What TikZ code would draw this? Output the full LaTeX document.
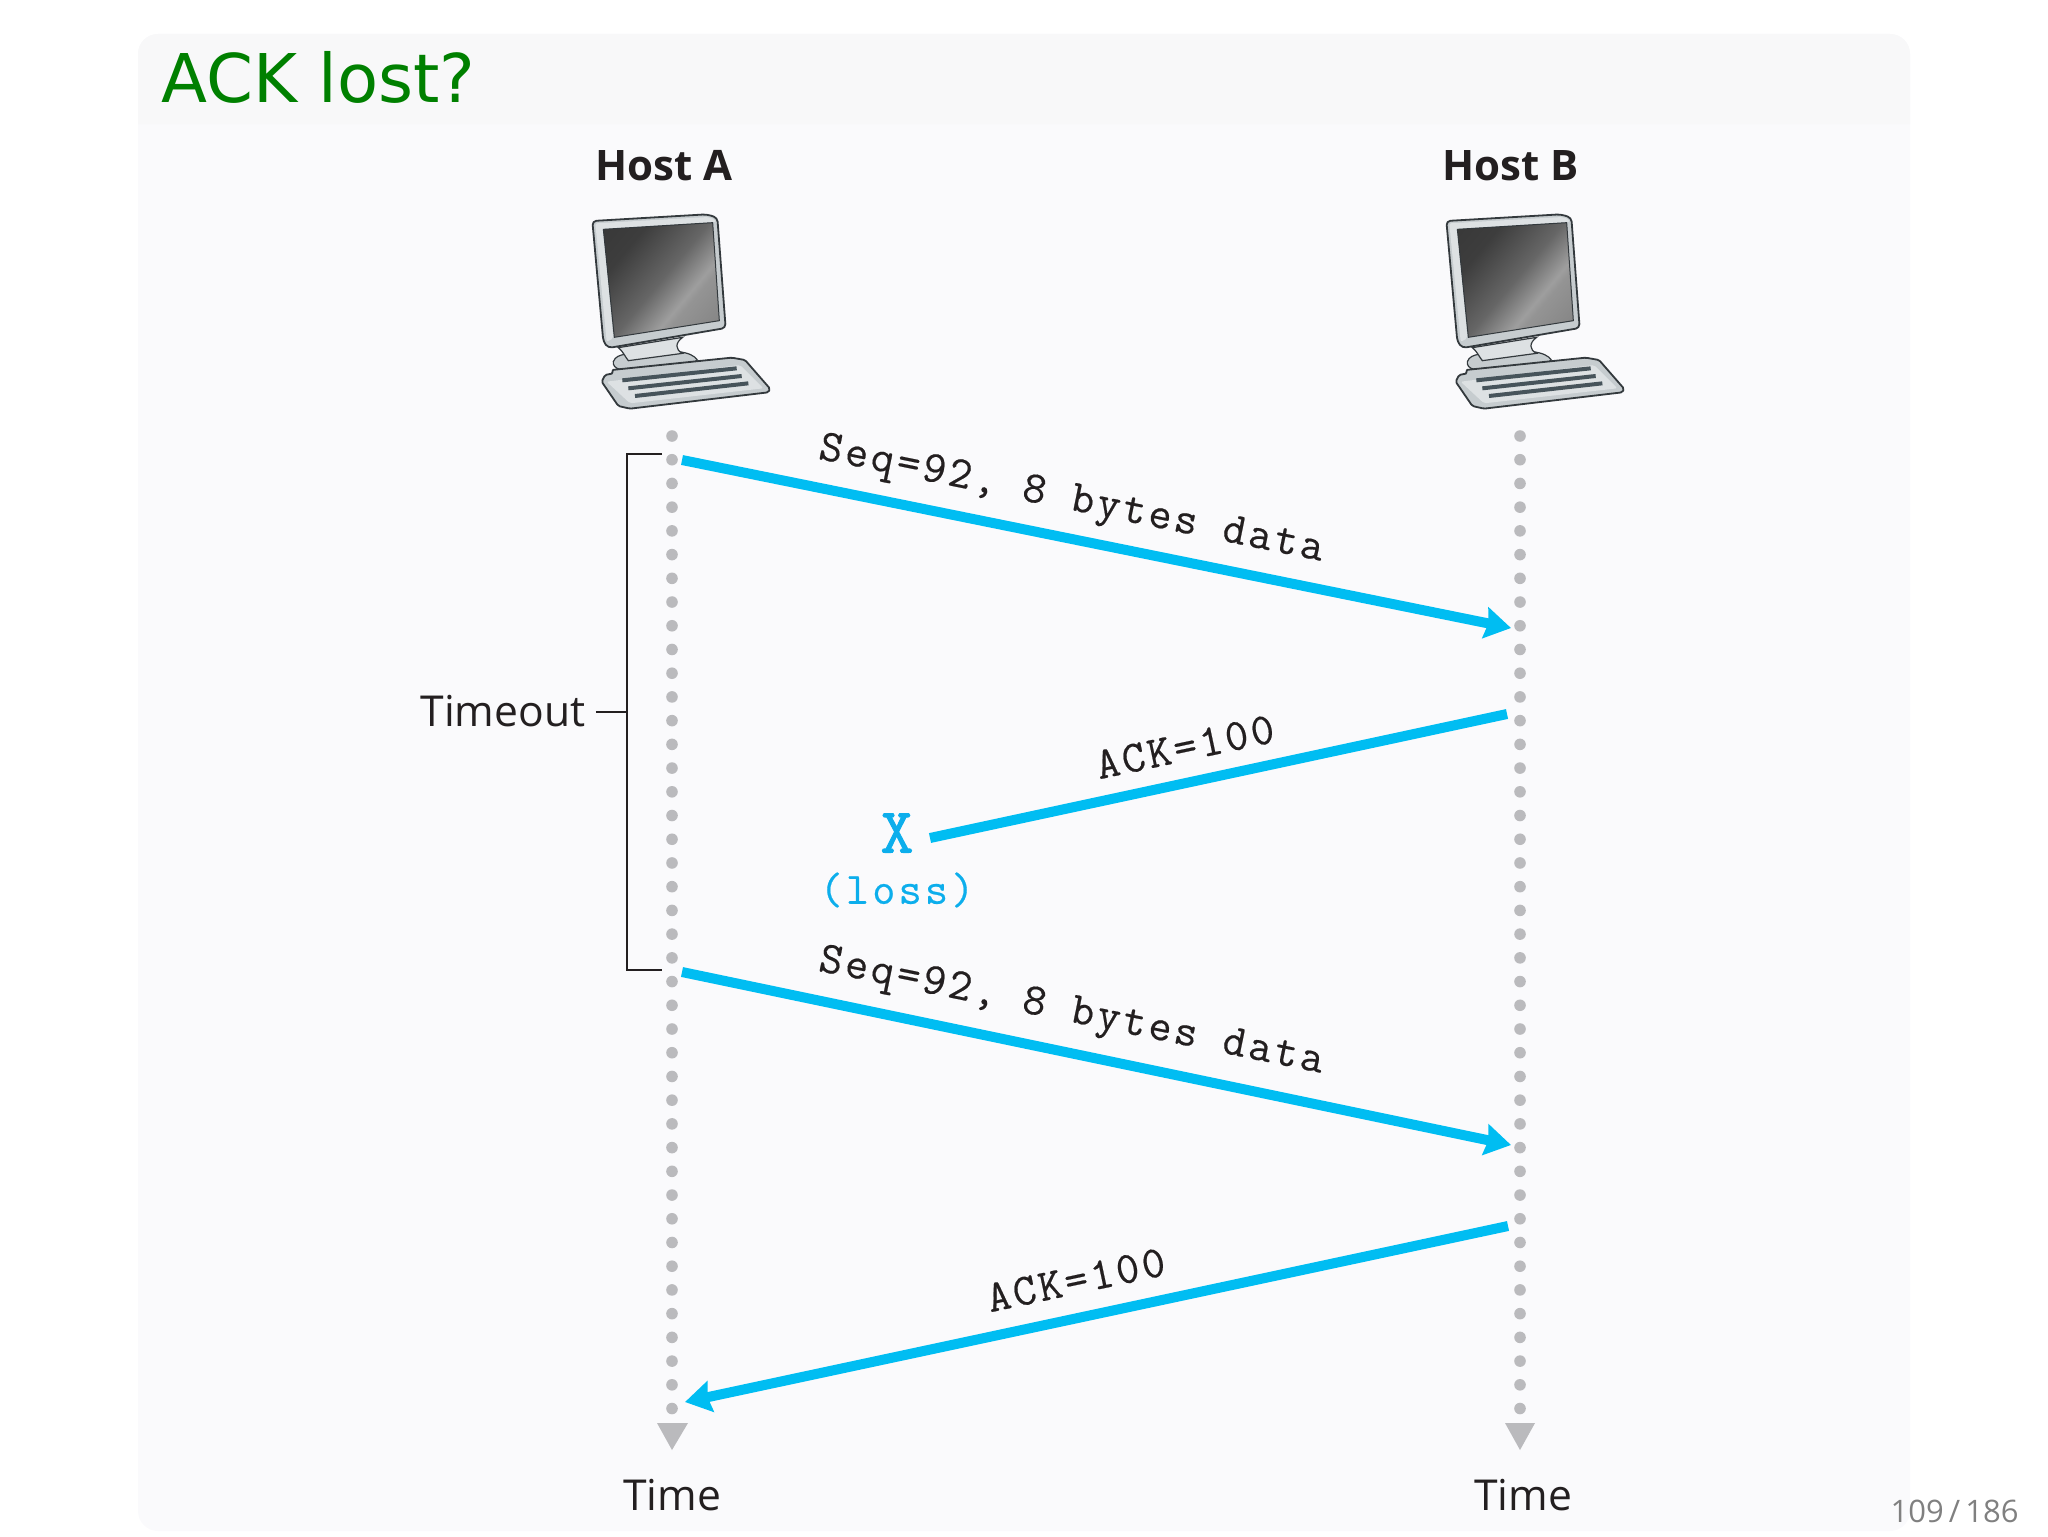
\documentclass[tikz,border=0pt]{standalone}
\usepackage{fontspec}
\setmainfont{Open Sans}
\setmonofont[LetterSpace=7,FakeBold=0.4]{Latin Modern Mono}
\newfontfamily\titlefont{DejaVu Sans}
\newfontfamily\crossfont[FakeBold=1.4]{Latin Modern Mono}
\usetikzlibrary{arrows.meta}
\definecolor{slidebg}{HTML}{FAFAFC}
\definecolor{titlebg}{HTML}{F8F8F9}
\definecolor{segblue}{HTML}{00BDF2}
\definecolor{lossblue}{HTML}{0CAEEC}
\definecolor{dotgray}{HTML}{BABABD}
\definecolor{inkblack}{HTML}{231F20}
\definecolor{caseedge}{HTML}{33393D}
\definecolor{casefill}{HTML}{C6CCCF}
\definecolor{caselight}{HTML}{DDE1E3}
\definecolor{keyline}{HTML}{47545B}
\pgfdeclarehorizontalshading{screenshade}{100bp}{
  color(0bp)=(black!80); color(30bp)=(black!76); color(50bp)=(black!60);
  color(63bp)=(black!38); color(66bp)=(black!42); color(100bp)=(black!55)}
\tikzset{
  pics/computer/.style = {
    code = {
      % stand and foot
      \draw[draw=caseedge, fill=casefill, line width=.6pt]
        (160,725) .. controls (165,710) and (180,705) .. (195,703)
        -- (355,695) .. controls (385,698) and (405,708) .. (412,720)
        -- (400,728) -- (180,748) .. controls (165,745) and (158,735) .. (160,725) -- cycle;
      \draw[draw=caseedge, fill=caselight, line width=.6pt]
        (175,683) -- (368,652) .. controls (345,668) and (345,690) .. (368,700)
        -- (205,722) .. controls (195,710) and (190,695) .. (175,683) -- cycle;
      % monitor
      \draw[draw=caseedge, fill=casefill, line width=.9pt, line join=round, rounded corners=2pt]
        (97,303) -- (440,283) -- (472,293) -- (497,624) -- (145,684) -- (130,665) -- cycle;
      \fill[caselight, rounded corners=1pt]
        (106,310) -- (445,291) -- (464,298) -- (468,306) -- (130,326) -- (160,655) -- (140,665) -- cycle;
      \draw[draw=caseedge, shading=screenshade, shading angle=-40, line width=.5pt]
        (130,328) -- (458,308) -- (478,602) -- (163,652) -- cycle;
      % keyboard
      \draw[draw=caseedge, fill=casefill, line width=.9pt, line join=round, rounded corners=.8pt]
        (155,750) -- (515,713) -- (555,720) -- (630,806) -- (625,817) -- (210,866)
        -- (175,858) -- (125,785) -- (135,765) -- (160,760) -- cycle;
      \fill[caselight, rounded corners=1pt]
        (140,785) -- (540,735) -- (610,805) -- (210,850) -- cycle;
      \draw[keyline, line width=2pt] (187,781) -- (530,745);
      \draw[keyline, line width=2pt] (205,805) -- (545,768);
      \draw[keyline, line width=2pt] (225,828) -- (565,790);
    }
  }
}
\begin{document}
\begin{tikzpicture}[x=0.5pt, y=-0.5pt,
    heading/.style = { inner sep=0pt, anchor=base west, text=green!50!black, font=\titlefont\fontsize{33.6}{33.6}\selectfont },
    host/.style = { inner sep=0pt, anchor=base, text=inkblack, font=\bfseries\fontsize{21}{21}\selectfont },
    plain/.style = { inner sep=0pt, anchor=base, text=inkblack, font=\fontsize{21.3}{21.3}\selectfont },
    seglabel/.style = { inner sep=0pt, text=inkblack, font=\ttfamily\fontsize{22.5}{22.5}\selectfont },
    pagenum/.style = { inner sep=0pt, anchor=base east, text=black!50, font=\fontsize{15.5}{15.5}\selectfont },
    timeline/.style = { draw=dotgray, line width=5.8pt, line cap=round, dash pattern=on 0pt off 11.86pt },
    timetip/.style = { fill=dotgray },
    segment/.style = { draw=segblue, line width=5pt, -{Stealth[length=13pt, width=15.5pt, inset=1.5pt]} },
    lostseg/.style = { draw=segblue, line width=5pt },
    bracket/.style = { draw=inkblack, line width=.8pt }]
    \useasboundingbox (0,0) rectangle (2048,1536);
    % slide background
    \fill[slidebg, rounded corners=10pt] (138,34) rectangle (1910,1531);
    \fill[titlebg] (138,124) [rounded corners=10pt] -- (138,34) -- (1910,34) [sharp corners] -- (1910,124) -- cycle;
    \node [heading] (title) at (161,103) {ACK lost?};
    \node [host] (hosta) at (664,180) {Host A};
    \node [host] (hostb) at (1511,180) {Host B};
    \pic [scale=1/3] at (560,120) {computer};
    \pic [scale=1/3] at (1414,120) {computer};
    \coordinate (atop) at (672,436);
    \coordinate (abot) at (672,1410);
    \coordinate (btop) at (1520,436);
    \coordinate (bbot) at (1520,1410);
    \node [plain] (timea) at (672,1510) {Time};
    \node [plain] (timeb) at (1523,1510) {Time};
    \node [plain] (timeout) at (503,726) {Timeout};
    \node [pagenum] (page) at (2019,1522) {109\,/\,186};
    % timelines
    \draw[timeline] (atop) -- (abot);
    \draw[timeline] (btop) -- (bbot);
    \fill[timetip] (657,1423) -- (688,1423) -- (672,1450) -- cycle;
    \fill[timetip] (1505,1423) -- (1535,1423) -- (1520,1450) -- cycle;
    % timeout bracket
    \coordinate (brtop) at (662,454);
    \coordinate (brbot) at (662,970);
    \coordinate (brmid) at (627,712);
    \draw[bracket] (brtop) -- (627,454) -- (627,970) -- (brbot);
    \draw[bracket] (timeout.east |- brmid) ++(10,0) -- (brmid);
    % segments
    \coordinate (seqastart) at (682,460);
    \coordinate (seqaend) at (1511,628);
    \coordinate (ackastart) at (1507,714);
    \coordinate (ackaend) at (930,838);
    \coordinate (seqbstart) at (682,972);
    \coordinate (seqbend) at (1511,1145);
    \coordinate (ackbstart) at (1508,1226);
    \coordinate (ackbend) at (685,1402);
    \draw[segment] (seqastart) -- (seqaend);
    \draw[lostseg] (ackastart) -- (ackaend);
    \draw[segment] (seqbstart) -- (seqbend);
    \draw[segment] (ackbstart) -- (ackbend);
    \node [seglabel, rotate=-11.5] (seqa) at (1071,501) {Seq=92, 8 bytes data};
    \node [seglabel, rotate=12] (acka) at (1185,747) {ACK=100};
    \node [seglabel, rotate=-11.5] (seqb) at (1071,1013) {Seq=92, 8 bytes data};
    \node [seglabel, rotate=12] (ackb) at (1076,1280) {ACK=100};
    \node [inner sep=0pt, text=lossblue, font=\crossfont\fontsize{32}{32}\selectfont] (cross) at (897,833) {X};
    \node [seglabel, text=lossblue] (loss) at (897,890) {(loss)};
\end{tikzpicture}
\end{document}
